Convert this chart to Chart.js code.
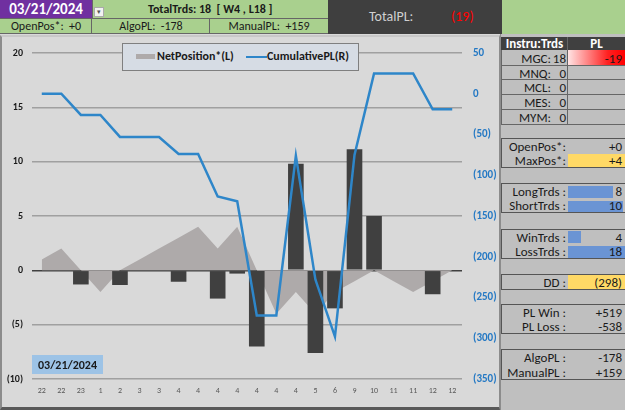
<!DOCTYPE html>
<html>
<head>
<meta charset="utf-8">
<script src="https://cdn.jsdelivr.net/npm/chart.js@4.4.1/dist/chart.umd.min.js"></script>
<style>
  body { margin: 0; width: 625px; height: 410px; overflow: hidden; position: relative; background: #fff;
         font-family: Carlito, Lato, sans-serif; color: #1a1a1a; }
  .box { position: absolute; box-sizing: border-box; }
  .txt { position: absolute; white-space: nowrap; line-height: 1; }
  .r { text-align: right; }
  .lbl { position: absolute; right: 59px; font-size: 13px; line-height: 15px; white-space: nowrap; }
  .val { position: absolute; right: 3px; font-size: 13px; line-height: 15px; white-space: nowrap; }
</style>
</head>
<body>

<!-- header rows -->
<div class="box" style="left:0;top:0;width:92px;height:18px;background:#7030A0;"></div>
<div class="txt" style="left:0;top:2px;width:92px;text-align:center;color:#fff;font-weight:bold;font-size:15px;">03/21/2024</div>
<div class="box" style="left:92px;top:0;width:236px;height:18px;background:#A9D08E;border-left:1px solid #666;"></div>
<div class="box" style="left:94px;top:7px;width:10px;height:10px;background:#f2f2f2;border:1px solid #aaa;font-size:7px;line-height:8px;text-align:center;color:#555;">&#9662;</div>
<div class="txt" style="left:148px;top:3px;font-weight:bold;font-size:12px;">TotalTrds: 18&nbsp; [ W4 , L18 ]</div>

<div class="box" style="left:0;top:18px;width:92px;height:16px;background:#A9D08E;border:1px solid #666;border-left:none;"></div>
<div class="box" style="left:92px;top:18px;width:118px;height:16px;background:#A9D08E;border:1px solid #666;border-left:none;"></div>
<div class="box" style="left:210px;top:18px;width:118px;height:16px;background:#A9D08E;border-top:1px solid #666;border-bottom:1px solid #666;"></div>
<div class="txt" style="left:0;top:20px;width:92px;text-align:center;font-size:12px;">OpenPos*:&nbsp; +0</div>
<div class="txt" style="left:92px;top:20px;width:118px;text-align:center;font-size:12px;">AlgoPL:&nbsp; -178</div>
<div class="txt" style="left:210px;top:20px;width:118px;text-align:center;font-size:12px;">ManualPL:&nbsp; +159</div>

<div class="box" style="left:328px;top:0;width:174px;height:34px;background:#3F3F3F;"></div>
<div class="txt" style="left:369px;top:10px;font-size:14px;color:#D0D0D0;">TotalPL:</div>
<div class="txt" style="left:451px;top:10px;font-size:14px;color:#FF0000;">(19)</div>
<div class="box" style="left:502px;top:0;width:123px;height:34px;background:#A9D08E;"></div>

<!-- chart area -->
<div class="box" style="left:0;top:34px;width:500px;height:376px;background:#D9D9D9;">
  <canvas id="plChart" width="500" height="376" style="position:absolute;left:0;top:0;"></canvas>
</div>
<div class="box" style="left:0;top:35px;width:500px;height:375px;border:2px solid #8C8C8C;border-top:2px solid #C8C8C8;border-right:1px solid #8C8C8C;border-bottom:3px solid #595959;"></div>

<!-- legend -->
<div class="box" style="left:122px;top:43px;width:237px;height:28px;background:#D6DCE4;border:1px solid #7F7F7F;"></div>
<div class="box" style="left:136px;top:54px;width:19px;height:5px;background:#AEAAAA;"></div>
<div class="txt" style="left:157px;top:50px;font-size:12px;font-weight:bold;">NetPosition*(L)</div>
<div class="box" style="left:246px;top:56px;width:21px;height:2px;background:#2E86C9;"></div>
<div class="txt" style="left:267px;top:50px;font-size:12px;font-weight:bold;">CumulativePL(R)</div>

<!-- date tag -->
<div class="box" style="left:32px;top:355px;width:71px;height:19px;background:#9DC3E6;"></div>
<div class="txt" style="left:32px;top:359px;width:71px;text-align:center;font-size:12px;font-weight:bold;">03/21/2024</div>

<!-- right panel -->
<div class="box" style="left:500px;top:34px;width:125px;height:376px;background:#BFBFBF;border-left:1px solid #8C8C8C;"></div>
<div class="box" style="left:501px;top:37px;width:124px;height:13px;background:#404040;"></div>
<div class="txt" style="left:501px;top:37px;width:67px;text-align:center;font-size:13px;font-weight:bold;color:#fff;">Instru:Trds</div>
<div class="txt" style="left:568px;top:37px;width:57px;text-align:center;font-size:13px;font-weight:bold;color:#fff;">PL</div>
<div class="box" style="left:568px;top:50px;width:57px;height:15px;background:linear-gradient(to right,#FFE4E4,#FF2020 70%,#FF0000);"></div>
<div class="box" style="left:501px;top:50px;width:124px;height:75px;border-left:1px solid #666;border-bottom:1px solid #666;"></div>
<div class="box" style="left:567px;top:37px;width:1px;height:88px;background:#666;"></div>
<div class="box" style="left:501px;top:65px;width:124px;height:1px;background:#666;"></div>
<div class="box" style="left:501px;top:79px;width:124px;height:1px;background:#666;"></div>
<div class="box" style="left:501px;top:94px;width:124px;height:1px;background:#666;"></div>
<div class="box" style="left:501px;top:109px;width:124px;height:1px;background:#666;"></div>
<div class="box" style="left:501px;top:50px;width:66px;height:75px;">
  <div class="txt r" style="right:16px;top:2px;font-size:13px;">MGC:</div><div class="txt r" style="right:1px;top:2px;font-size:13px;">18</div>
  <div class="txt r" style="right:16px;top:17px;font-size:13px;">MNQ:</div><div class="txt r" style="right:1px;top:17px;font-size:13px;">0</div>
  <div class="txt r" style="right:16px;top:31px;font-size:13px;">MCL:</div><div class="txt r" style="right:1px;top:31px;font-size:13px;">0</div>
  <div class="txt r" style="right:16px;top:46px;font-size:13px;">MES:</div><div class="txt r" style="right:1px;top:46px;font-size:13px;">0</div>
  <div class="txt r" style="right:16px;top:61px;font-size:13px;">MYM:</div><div class="txt r" style="right:1px;top:61px;font-size:13px;">0</div>
</div>
<div class="txt r" style="right:3px;top:52px;font-size:13px;">-19</div>

<div class="box" style="left:568px;top:154px;width:57px;height:14px;background:#FFD966;"></div>
<div class="box" style="left:501px;top:138px;width:124px;height:30px;border:1px solid #555;border-right:none;">
  <div class="lbl" style="top:0;">OpenPos*:</div><div class="val" style="top:0;">+0</div>
  <div class="lbl" style="top:14px;">MaxPos*:</div><div class="val" style="top:14px;">+4</div>
</div>

<div class="box" style="left:568px;top:186px;width:45px;height:12px;background:#6A94D4;"></div>
<div class="box" style="left:568px;top:201px;width:55px;height:11px;background:#6A94D4;"></div>
<div class="box" style="left:501px;top:183px;width:124px;height:30px;border:1px solid #555;border-right:none;">
  <div class="lbl" style="top:0;">LongTrds :</div><div class="val" style="top:0;">8</div>
  <div class="lbl" style="top:14px;">ShortTrds :</div><div class="val" style="top:14px;">10</div>
</div>

<div class="box" style="left:568px;top:231px;width:13px;height:12px;background:#6A94D4;"></div>
<div class="box" style="left:568px;top:246px;width:57px;height:12px;background:#6A94D4;"></div>
<div class="box" style="left:501px;top:229px;width:124px;height:30px;border:1px solid #555;border-right:none;">
  <div class="lbl" style="top:0;">WinTrds :</div><div class="val" style="top:0;">4</div>
  <div class="lbl" style="top:14px;">LossTrds :</div><div class="val" style="top:14px;">18</div>
</div>

<div class="box" style="left:568px;top:274px;width:57px;height:15px;background:#FFD966;"></div>
<div class="box" style="left:501px;top:274px;width:124px;height:16px;border:1px solid #555;border-right:none;">
  <div class="lbl" style="top:0;">DD :</div><div class="val" style="top:0;">(298)</div>
</div>

<div class="box" style="left:501px;top:304px;width:124px;height:30px;border:1px solid #555;border-right:none;">
  <div class="lbl" style="top:0;">PL Win :</div><div class="val" style="top:0;">+519</div>
  <div class="lbl" style="top:14px;">PL Loss :</div><div class="val" style="top:14px;">-538</div>
</div>

<div class="box" style="left:501px;top:349px;width:124px;height:31px;border:1px solid #555;border-right:none;">
  <div class="lbl" style="top:0;">AlgoPL :</div><div class="val" style="top:0;">-178</div>
  <div class="lbl" style="top:15px;">ManualPL :</div><div class="val" style="top:15px;">+159</div>
</div>

<script>
// trade hours along the x axis
const hours = ['22', '22', '23', '1', '2', '3', '3', '4', '4', '4', '4', '4', '4', '4', '5', '6', '9', '10', '11', '11', '12', '12'];
// net position (left axis, grey area)
const netPosition = [1, 2, 0, -2, 0, 1, 2, 3, 4, 2, 4, 0, -4, -2, -4, -2, -1, 0, -1, -2, -1, 0];
// per-trade bars (left axis)
const tradeBars = [null, null, -1.3, null, -1.35, null, null, -1.05, null, -2.6, -0.3, -7, null, 9.8, -7.6, -3.5, 11.15, 5, null, null, -2.2, null];
// cumulative PL (right axis, blue line)
const cumulativePL = [0, 0, -26, -26, -53, -53, -53, -74, -74, -126, -132, -272, -272, -76, -228, -298, -75, 25, 25, 25, -19, -19];
// axis ranges: [min, max, step]
const leftRange = [-10, 20, 5];
const rightRange = [-350, 50, 50];

function paren(v) {
  return v < 0 ? '(' + (-v) + ')' : String(v);
}

Chart.defaults.font.family = 'Carlito, Lato, sans-serif';

new Chart(document.getElementById('plChart'), {
  type: 'bar',
  data: {
    labels: hours,
    datasets: [
      {
        type: 'line',
        label: 'CumulativePL(R)',
        data: cumulativePL,
        yAxisID: 'y1',
        borderColor: '#2E86C9',
        borderWidth: 2.5,
        pointRadius: 0,
        tension: 0,
        fill: false,
        order: 0
      },
      {
        label: 'Trades',
        data: tradeBars,
        yAxisID: 'y',
        backgroundColor: '#404040',
        barPercentage: 0.8,
        categoryPercentage: 1,
        order: 1
      },
      {
        type: 'line',
        label: 'NetPosition*(L)',
        data: netPosition,
        yAxisID: 'y',
        backgroundColor: '#AEAAAA',
        borderWidth: 0,
        pointRadius: 0,
        tension: 0,
        fill: 'origin',
        order: 2
      }
    ]
  },
  options: {
    responsive: false,
    animation: false,
    layout: { padding: { top: 19, left: 0, right: 0, bottom: 0 } },
    plugins: {
      legend: { display: false },
      tooltip: { enabled: false }
    },
    scales: {
      x: {
        grid: { display: false, drawTicks: false },
        border: { display: false },
        ticks: { color: '#595959', font: { size: 8 }, padding: 7, maxRotation: 0, autoSkip: false },
        afterFit: s => { s.height = 31; }
      },
      y: {
        position: 'left',
        min: leftRange[0],
        max: leftRange[1],
        ticks: { stepSize: leftRange[2], callback: paren, color: '#1a1a1a', font: { size: 10, weight: 'bold' }, padding: 9 },
        grid: {
          drawTicks: false,
          color: c => c.tick.value === 0 ? '#404040' : '#A0A0A0',
          lineWidth: 1.5
        },
        border: { display: false },
        afterFit: s => { s.width = 32; }
      },
      y1: {
        position: 'right',
        min: rightRange[0],
        max: rightRange[1],
        ticks: { stepSize: rightRange[2], callback: paren, color: '#2579C4', font: { size: 11, weight: 'bold' }, padding: 11 },
        grid: { display: false, drawTicks: false },
        border: { display: false },
        afterFit: s => { s.width = 38; }
      }
    }
  }
});
</script>
</body>
</html>
